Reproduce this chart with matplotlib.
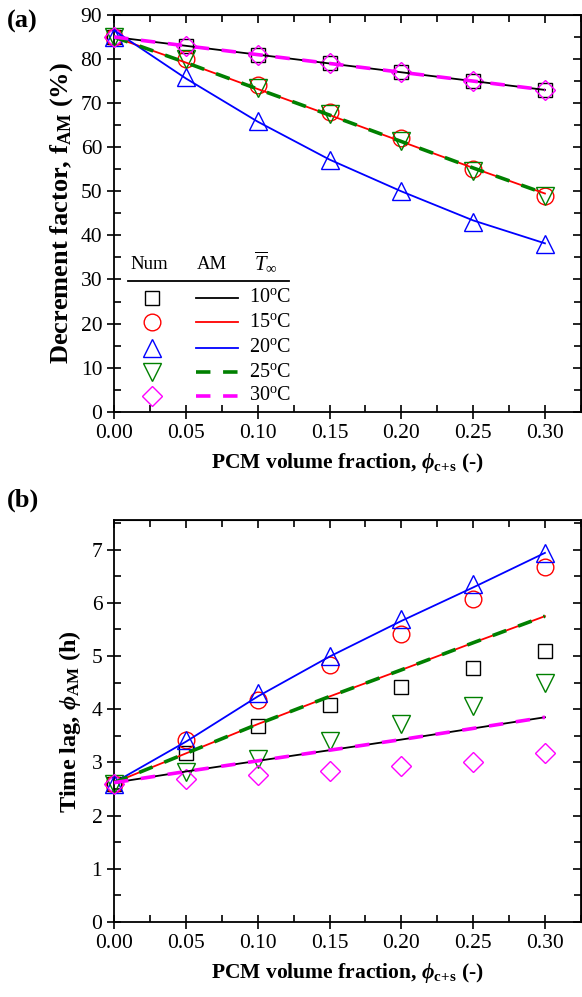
import numpy as np
import matplotlib
matplotlib.use('Agg')
import matplotlib.pyplot as plt
from matplotlib.ticker import MultipleLocator

plt.rcParams['font.family'] = 'Liberation Serif'
plt.rcParams['mathtext.fontset'] = 'custom'
plt.rcParams['mathtext.rm'] = 'Liberation Serif'
plt.rcParams['mathtext.it'] = 'Liberation Serif:italic'
plt.rcParams['mathtext.bf'] = 'Liberation Serif:bold'
plt.rcParams['mathtext.bfit'] = 'Liberation Serif:italic:bold'

x = [0.0, 0.05, 0.10, 0.15, 0.20, 0.25, 0.30]
temps = ['10', '15', '20', '25', '30']

# panel (a): decrement factor (%)
fa_num = {
    '10': [85, 83, 81, 79, 77, 75, 73],
    '15': [85, 80, 74, 68, 62, 55, 49],
    '20': [85, 76, 66, 57, 50, 43, 38],
    '25': [85, 80, 73.5, 67.5, 61.5, 54.5, 49],
    '30': [85, 83, 81, 79, 77, 75, 73],
}
fa_am = {
    '10': [85, 83, 81, 79, 77, 75, 73],
    '15': [85, 79.2, 73.2, 67.3, 61.3, 55.3, 49.5],
    '20': [86.5, 75.6, 65.8, 57.2, 50.0, 43.4, 38.2],
    '25': [85, 79.2, 73.2, 67.3, 61.3, 55.3, 49.5],
    '30': [85, 83, 81, 79, 77, 75, 73],
}

# panel (b): time lag (h)
tb_num = {
    '10': [2.6, 3.18, 3.68, 4.08, 4.42, 4.77, 5.1],
    '15': [2.6, 3.42, 4.17, 4.84, 5.42, 6.08, 6.67],
    '20': [2.6, 3.42, 4.3, 5.0, 5.7, 6.35, 6.93],
    '25': [2.6, 2.82, 3.07, 3.41, 3.73, 4.07, 4.5],
    '30': [2.6, 2.69, 2.77, 2.84, 2.93, 3.01, 3.18],
}
tb_am = {
    '10': [2.62, 2.83, 3.03, 3.23, 3.43, 3.64, 3.85],
    '15': [2.62, 3.17, 3.72, 4.24, 4.74, 5.25, 5.75],
    '20': [2.62, 3.39, 4.24, 4.99, 5.66, 6.29, 6.94],
    '25': [2.62, 3.17, 3.72, 4.24, 4.74, 5.25, 5.75],
    '30': [2.62, 2.83, 3.03, 3.23, 3.43, 3.64, 3.85],
}

colors = {'10': 'black', '15': 'red', '20': 'blue', '25': 'green', '30': 'magenta'}
markers = {'10': 's', '15': 'o', '20': '^', '25': 'v', '30': 'D'}
msizes = {'10': 10, '15': 12, '20': 13, '25': 13, '30': 10}
dashed = {'10': False, '15': False, '20': False, '25': True, '30': True}


def style_axes(ax, ymax, ymajor, yminor):
    ax.set_xlim(0, 0.325)
    ax.set_ylim(0, ymax)
    ax.xaxis.set_major_locator(MultipleLocator(0.05))
    ax.xaxis.set_minor_locator(MultipleLocator(0.025))
    ax.yaxis.set_major_locator(MultipleLocator(ymajor))
    ax.yaxis.set_minor_locator(MultipleLocator(yminor))
    ax.xaxis.set_major_formatter(matplotlib.ticker.FormatStrFormatter('%.2f'))
    ax.tick_params(which='major', direction='inout', length=10, width=1.2,
                   labelsize=15.5, top=False, right=False)
    ax.tick_params(which='minor', direction='in', length=5, width=1.2,
                   top=False, right=False)
    for s in ax.spines.values():
        s.set_linewidth(1.3)
    # top / right inward ticks
    sec = ax.secondary_xaxis('top')
    sec.xaxis.set_major_locator(MultipleLocator(0.05))
    sec.xaxis.set_minor_locator(MultipleLocator(0.025))
    sec.tick_params(which='major', direction='in', length=6, width=1.2, labeltop=False)
    sec.tick_params(which='minor', direction='in', length=5, width=1.2)
    sec.set_xticklabels([])
    secy = ax.secondary_yaxis('right')
    secy.yaxis.set_major_locator(MultipleLocator(ymajor))
    secy.yaxis.set_minor_locator(MultipleLocator(yminor))
    secy.tick_params(which='major', direction='in', length=6, width=1.2)
    secy.tick_params(which='minor', direction='in', length=5, width=1.2)
    secy.set_yticklabels([])


def draw(ax, num, am):
    for t in temps:
        ax.plot(x, num[t], linestyle='none', marker=markers[t], ms=msizes[t],
                mfc='none', mec=colors[t], mew=1.0, clip_on=False, zorder=3)
    for t in temps:
        if dashed[t]:
            ax.plot(x, am[t], color=colors[t], lw=2.6, dashes=(4, 3.5), zorder=4)
        else:
            ax.plot(x, am[t], color=colors[t], lw=1.3, zorder=4)


fig = plt.figure(figsize=(5.82, 9.97), dpi=100)
ax1 = fig.add_axes([0.196, 0.587, 0.802, 0.398])
ax2 = fig.add_axes([0.196, 0.0752, 0.802, 0.4028])

draw(ax1, fa_num, fa_am)
draw(ax2, tb_num, tb_am)
style_axes(ax1, 90, 10, 5)
style_axes(ax2, 7.55, 1, 0.5)

xlabel = r'PCM volume fraction, $\mathbfit{\phi}_{\mathbf{c\!+\!s}}$ (-)'
ax1.set_xlabel(xlabel, fontsize=15.5, fontweight='bold', labelpad=6)
ax2.set_xlabel(xlabel, fontsize=15.5, fontweight='bold', labelpad=6)
ax1.set_ylabel(r'Decrement factor, f$_{\mathbf{AM}}$ (%)', fontsize=19,
               fontweight='bold', labelpad=4)
ax2.set_ylabel(r'Time lag, $\mathbfit{\phi}_{\mathbf{AM}}$ (h)', fontsize=17.5,
               fontweight='bold', labelpad=6)

fig.text(0.012, 0.978, '(a)', fontsize=19, fontweight='bold', va='center')
fig.text(0.012, 0.498, '(b)', fontsize=19, fontweight='bold', va='center')

# hand-made legend table in panel (a)
tr = ax1.transAxes
hy = 0.372
ax1.text(0.075, hy, 'Num', transform=tr, fontsize=13.5, ha='center', va='center')
ax1.text(0.21, hy, 'AM', transform=tr, fontsize=13.5, ha='center', va='center')
ax1.text(0.325, hy + 0.005, r'$\overline{T}_{\infty}$', transform=tr, fontsize=15,
         ha='center', va='center')
ax1.plot([0.03, 0.375], [0.33, 0.33], transform=tr, color='black', lw=1.3, clip_on=False)
row_y = [0.287, 0.225, 0.161, 0.1, 0.04]
for t, ry in zip(temps, row_y):
    ax1.plot([0.081], [ry], transform=tr, marker=markers[t], ms=msizes[t],
             mfc='none', mec=colors[t], mew=1.0, linestyle='none')
    if dashed[t]:
        ax1.plot([0.175, 0.265], [ry, ry], transform=tr, color=colors[t], lw=2.6,
                 dashes=(4, 3.5))
    else:
        ax1.plot([0.175, 0.265], [ry, ry], transform=tr, color=colors[t], lw=1.3)
    ax1.text(0.29, ry, t + r'$^{\mathrm{o}}$C', transform=tr, fontsize=14.5, va='center')

fig.savefig('out.png', dpi=100)
